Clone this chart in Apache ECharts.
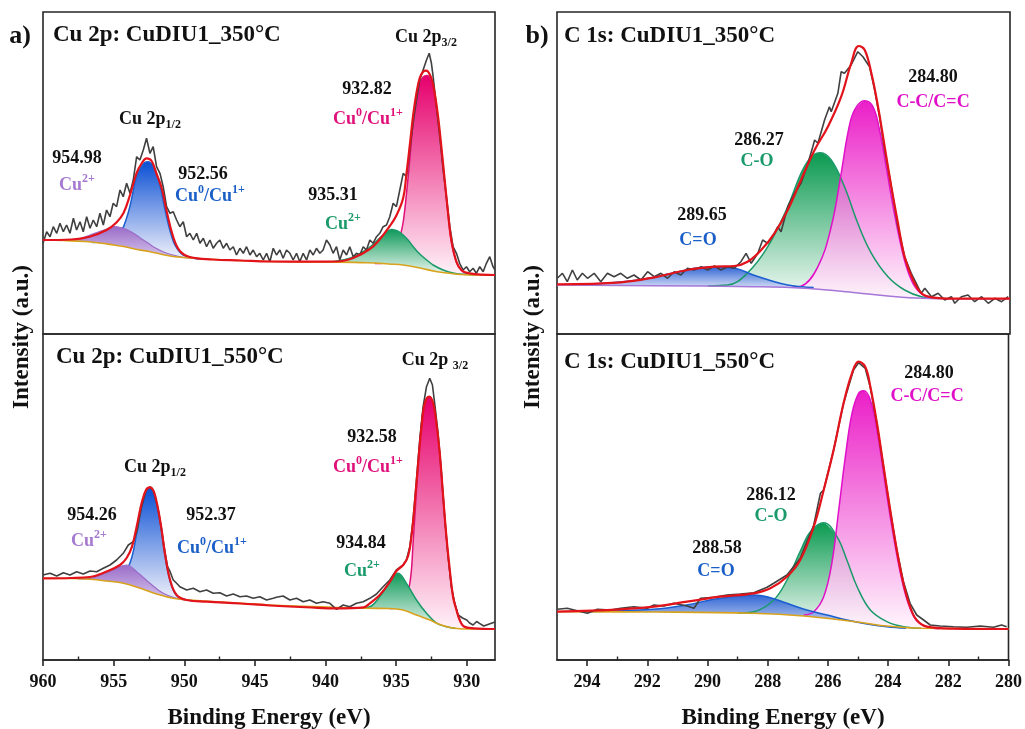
<!DOCTYPE html>
<html><head><meta charset="utf-8">
<script src="https://cdn.jsdelivr.net/npm/echarts@6/dist/echarts.min.js"></script>
<style>html,body{margin:0;padding:0;background:#fff}#c{width:1025px;height:729px}</style>
</head><body><div id="c"></div>
<script>
// ---------------- tick labels ----------------
const CU_MAJOR = [960, 955, 950, 945, 940, 935, 930];
const CU_MINOR = [957.5, 952.5, 947.5, 942.5, 937.5, 932.5];
const C_MAJOR = [294, 292, 290, 288, 286, 284, 282, 280];
const C_MINOR = [293, 291, 289, 287, 285, 283, 281];

// ---------------- a) Cu 2p 350°C  [binding energy, intensity a.u.] ----------------
const cu350_raw = [[960,90.7],[959.74,102.3],[959.5,97.3],[959.27,107.3],[959.03,100.7],[958.8,110.7],[958.56,102.3],[958.33,109],[958.09,100.7],[957.85,115.7],[957.62,104],[957.38,112.3],[957.15,102.3],[956.91,117.3],[956.67,105.7],[956.44,114],[956.2,107.3],[955.97,120.7],[955.73,109],[955.5,124],[955.26,117.3],[955.03,130.7],[954.79,127.3],[954.55,144],[954.32,137.3],[954.08,150.7],[953.84,140.7],[953.61,154],[953.37,177.3],[953.14,174],[952.9,184],[952.67,195.7],[952.43,180.7],[952.2,187.3],[951.96,167.3],[951.72,160.7],[951.49,147.3],[951.25,127.3],[951.01,120.7],[950.78,122.3],[950.54,114],[950.31,107.3],[950.07,112.3],[949.83,97.3],[949.6,100.7],[949.36,94],[949.12,100.7],[948.89,90.7],[948.65,95.7],[948.42,87.3],[948.18,94],[947.95,85.7],[947.71,90.7],[947.48,94],[947.24,85.7],[947,90.7],[946.77,84],[946.53,87.3],[946.3,79],[946.06,85.7],[945.82,80.7],[945.59,87.3],[945.35,79],[945.12,84],[944.88,77.3],[944.65,80.7],[944.41,74],[944.17,80.7],[943.94,72.3],[943.7,85.7],[943.47,79],[943.23,84],[943,75.7],[942.76,84],[942.52,80.7],[942.29,74],[942.05,80.7],[941.82,72.3],[941.58,80.7],[941.34,74],[941.11,84],[940.87,79],[940.64,85.7],[940.4,80.7],[940.17,84],[939.93,94],[939.69,89],[939.46,80.7],[939.22,87.3],[938.99,74],[938.75,84],[938.51,79],[938.28,87.3],[938.04,77.3],[937.81,80.7],[937.57,79],[937.33,87.3],[937.1,84],[936.86,94],[936.63,90.7],[936.39,97.3],[936.16,100.7],[935.92,107.3],[935.68,109],[935.45,117.3],[935.21,130.7],[934.98,127.3],[934.74,144],[934.5,160.7],[934.27,157.3],[934.03,184],[933.8,210.7],[933.56,234],[933.33,254],[933.09,264],[932.85,274],[932.66,280.7],[932.5,270.7],[932.38,257.3],[932.15,227.3],[931.91,197.3],[931.67,164],[931.44,137.3],[931.2,107.3],[930.97,87.3],[930.73,80.7],[930.5,70.7],[930.26,64],[930.02,67.3],[929.79,62.3],[929.55,65.7],[929.32,60.7],[929.08,67.3],[928.84,62.3],[928.61,70.7],[928.37,77.3],[928.14,67.3],[928,64]];
const cu350_bg = [[960,94],[958.5,93.5],[957,92.5],[956,91],[955,89],[954.3,87.5],[953.5,85],[952.5,82.5],[952,81],[951,78],[950,76.5],[949,75.5],[947,74],[944,72.5],[940,72],[937,71.3],[935.5,70],[934.5,69],[933.3,66],[932.2,62.5],[931,60.3],[930,59.3],[928,59]];
const cu350_env = [[960,94],[958,94.5],[956.7,97.3],[955.5,104],[954.8,111.5],[954.3,121],[953.84,139],[953.37,161],[953,171],[952.67,175.7],[952.31,173],[951.96,160],[951.6,146],[951.25,123],[950.78,97],[950.31,83],[949.6,77],[948,74.5],[946,73.5],[944,72.5],[941,72.3],[939.2,72.5],[938.04,76],[936.86,85],[936.2,94],[935.45,108],[935,118],[934.5,136],[934.27,160],[934.03,189],[933.8,218],[933.56,241],[933.33,256],[933.09,262.3],[932.9,263.3],[932.74,262.3],[932.5,255.7],[932.27,240.7],[932.03,217.3],[931.8,187.3],[931.56,154],[931.32,120.7],[931.09,94],[930.73,72.3],[930.38,64],[929.8,60.7],[928,59]];
const cu350_p12_cu2 = [[958.5,93.6],[957.5,95],[956.67,99],[956,102.5],[955.5,105],[954.98,107.3],[954.5,106.5],[954,104],[953.6,100.7],[953.2,97],[952.9,94],[952.5,90.5],[952.2,87.3],[951.5,82.3],[950.8,79],[950.07,76.7],[949.5,75.8]];
const cu350_p12_cu01 = [[956.5,91.5],[955.5,93],[955,96],[954.43,104],[954.08,116],[953.84,128],[953.6,144],[953.37,158],[953,168],[952.8,171.5],[952.56,172.3],[952.3,170],[952.08,165],[951.84,155],[951.6,141],[951.37,125],[951.13,110],[950.9,98],[950.66,89],[950.35,82.5],[950.07,79],[949.36,75.7],[948.5,74.8]];
const cu350_p32_cu2 = [[939.5,72.2],[938.04,77],[936.86,87],[936.2,95.5],[935.7,101.5],[935.31,104.5],[934.9,103],[934.5,99],[934.1,93],[933.8,87.5],[933.4,81],[933.09,77],[932.7,72.5],[932.38,69],[931.67,64],[930.97,61],[930.26,59.7],[929.5,59.2]];
const cu350_p32_cu01 = [[936.5,70.5],[935.5,72],[935,80],[934.74,96],[934.5,112],[934.27,140],[934.03,175],[933.8,211],[933.56,236],[933.33,251],[933.09,257],[932.82,258.5],[932.55,255],[932.27,239],[932.03,215],[931.8,185],[931.56,152],[931.32,119],[931.09,92],[930.73,71.5],[930.38,63.5],[930,60.5],[929.3,59.3]];

// ---------------- a) Cu 2p 550°C ----------------
const cu550_raw = [[960,85],[959.5,86.7],[959.03,84],[958.56,87.3],[958.09,85],[957.62,88.3],[957.15,86],[956.67,89],[956.2,88.3],[955.73,91.7],[955.26,95],[954.79,100],[954.32,106.7],[953.96,115],[953.61,118.3],[953.33,130],[953.02,153.3],[952.71,169.3],[952.43,173.3],[952.15,168.3],[951.84,150],[951.6,130],[951.37,108.3],[951.18,93.3],[951,88.3],[950.78,80],[950.54,76.7],[950.31,73.3],[949.83,70],[949.36,71.7],[948.89,68.3],[948.42,70],[947.95,66.7],[947.48,67.3],[947,64],[946.53,66],[946.06,63.3],[945.59,64],[945.12,61.7],[944.65,63.3],[944.17,60],[943.7,61.7],[943.47,62.7],[943,64],[942.52,60],[942.05,61.7],[941.58,58.3],[941.11,60],[940.64,56.7],[940.17,58.3],[939.69,56.7],[939.22,50.7],[938.75,55],[938.28,53.3],[937.81,56.7],[937.33,58.3],[936.86,61.7],[936.39,66],[935.92,73.3],[935.45,80],[934.98,90],[934.5,95],[934.27,100],[934.03,113.3],[933.8,140],[933.56,180],[933.33,220],[933.09,253.3],[932.85,273.3],[932.62,281.7],[932.43,275],[932.27,256.7],[932.03,226.7],[931.79,186.7],[931.56,143.3],[931.32,103.3],[931.09,73.3],[930.85,56.7],[930.61,45],[930.3,42],[930,40],[929.8,37],[929.55,35],[929.3,38.5],[929.1,36.7],[928.8,34],[928.4,36],[928,38]];
const cu550_bg = [[960,81.7],[958,81.5],[956.67,80.7],[955.5,79],[954.3,76.7],[953.1,71.7],[951.96,66],[950.8,61.7],[949.6,60],[947,57.5],[944,55],[941,53.5],[939.5,52.7],[937.1,51.7],[935.5,51.5],[934.5,50],[933.56,45],[932.6,40],[932,36],[931.2,32.5],[930.5,31.3],[930,31],[928,31]];
const cu550_env = [[960,81.7],[958,82],[956.67,83],[955.5,88.5],[954.55,95],[954.08,102],[953.7,113.3],[953.37,133.3],[953.02,156.7],[952.71,170],[952.43,172.7],[952.15,168.3],[951.84,150],[951.6,130],[951.37,106.7],[951,80],[950.54,65],[949.83,60],[948.42,58.3],[946,56.5],[943.94,54.5],[941,52.5],[939.2,51.7],[937.3,52.7],[936.86,56.7],[936.16,65],[935.45,78],[934.98,89],[934.5,95],[934.15,104],[933.91,124],[933.68,157],[933.44,197],[933.2,233.3],[932.97,256.7],[932.66,263.3],[932.38,256.7],[932.15,236.7],[931.91,206.7],[931.67,163.3],[931.44,123.3],[931.2,90],[930.97,63.3],[930.73,50],[930.5,40],[930.2,33.5],[929.5,31.7],[928,31]];
const cu550_p12_cu2 = [[957.5,81.2],[956.67,81.7],[955.5,87.3],[954.55,93.5],[954.08,95],[953.37,88.3],[952.43,76.7],[951.49,66.7],[950.54,61.7],[949.83,60]];
const cu550_p12_cu01 = [[956.5,81],[955.5,82.5],[954.55,85],[954.08,90],[953.7,103.3],[953.37,126.7],[953.02,153.3],[952.67,168.3],[952.43,171.7],[952.15,166.7],[951.84,148.3],[951.6,128.3],[951.37,105],[951,79],[950.54,64.5],[949.83,60],[949,59]];
const cu550_p32_cu2 = [[937.5,52],[936.86,53.3],[936.16,63.3],[935.45,78.3],[934.86,86.7],[934.27,76.7],[933.56,60],[932.85,46.7],[932.15,37],[931.5,33.5],[930.8,31.5]];
const cu550_p32_cu01 = [[935.5,51.5],[935.1,52],[934.5,56.7],[934.03,76.7],[933.8,116.7],[933.56,170],[933.32,216.7],[933.09,250],[932.85,261],[932.66,262.7],[932.38,256],[932.15,236],[931.91,205],[931.67,161.7],[931.44,121.7],[931.2,88.3],[930.97,63.3],[930.73,50.7],[930.5,40],[930.2,33.5],[929.5,31.5]];

// ---------------- b) C 1s 350°C ----------------
const c350_raw = [[294.99,55.7],[294.82,60.7],[294.66,52.3],[294.49,64],[294.33,54],[294.16,60.7],[293.99,55.7],[293.77,60.7],[293.55,52.3],[293.33,60.7],[293.11,57.3],[292.89,60.7],[292.67,55.7],[292.45,59],[292.22,54],[292,62.3],[291.78,57.3],[291.56,60.7],[291.34,55.7],[291.12,62.3],[290.9,59],[290.68,65.7],[290.46,64],[290.23,67.3],[290.01,64],[289.79,68],[289.57,64],[289.35,67.3],[289.13,65.7],[288.91,72.3],[288.74,80.7],[288.57,70.7],[288.35,80.7],[288.19,94],[288.02,90.7],[287.8,100.7],[287.69,107.3],[287.58,102.3],[287.36,127.3],[287.14,140.7],[286.92,150.7],[286.69,170.7],[286.53,187.3],[286.47,194],[286.36,190.7],[286.14,214],[285.98,227.3],[285.92,222.3],[285.7,240.7],[285.59,262.3],[285.48,260.7],[285.26,269],[285.04,282.3],[284.87,277.3],[284.65,267.3],[284.48,244],[284.32,217.3],[284.15,184],[283.93,147.3],[283.71,107.3],[283.49,77.3],[283.27,60.7],[283.05,47.3],[282.94,40.7],[282.82,45.7],[282.6,37.3],[282.38,40.7],[282.16,34],[281.94,37.3],[281.83,30.7],[281.61,37.3],[281.39,39],[281.17,32.3],[280.94,37.3],[280.72,30.7],[280.5,35.7],[280.28,32.3],[280.06,37.3]];
const c350_bg = [[295,49],[291.8,48.3],[288.5,47.3],[286.8,45.7],[285.1,41.3],[284.04,38],[282.9,35.7],[281.8,35.3],[280,35.3]];
const c350_env = [[295,49.7],[292.89,51.7],[291.78,56.7],[290.68,64],[289.79,67.3],[289.13,68],[288.69,72.3],[288.24,84],[287.8,100.7],[287.36,124],[286.92,154],[286.47,184],[286.03,207.3],[285.59,237.3],[285.26,270.7],[285.01,288],[284.81,284],[284.59,260.7],[284.37,227.3],[284.15,187.3],[283.93,147.3],[283.71,110.7],[283.49,77.3],[283.21,54],[282.93,40.7],[282.6,36.7],[281.83,35.3],[280,35.3]];
const c350_co2 = [[294,49.7],[292.3,54],[291.2,60.7],[290.45,65.7],[289.8,67.3],[289.1,65.7],[288.5,59],[287.91,53.3],[287.36,49],[286.9,47.3],[286.5,46.5]];
const c350_co = [[290,48.3],[289.35,49],[288.7,60.7],[288.02,87.3],[287.36,127.3],[286.92,160.7],[286.58,177.3],[286.27,181.3],[285.92,174],[285.48,147.3],[285.04,110.7],[284.59,80.7],[284.04,57.3],[283.49,44],[282.93,37.3],[282.4,35.7]];
const c350_cc = [[287.2,47],[286.9,48],[286.36,67.3],[285.92,107.3],[285.59,160.7],[285.37,200.7],[285.15,224],[284.81,233.3],[284.54,227.3],[284.32,204],[284.1,167.3],[283.87,127.3],[283.65,94],[283.43,67.3],[283.15,47.3],[282.82,38],[282.4,35.5]];

// ---------------- b) C 1s 550°C ----------------
const c550_raw = [[294.99,50.7],[294.66,51.7],[294.33,49.3],[293.99,46.7],[293.66,50.7],[293.22,50],[292.89,51.7],[292.45,53.3],[292,51.7],[291.78,55],[291.45,54],[291.12,56.7],[290.68,54],[290.45,51.7],[290.23,61.7],[289.79,62.7],[289.35,65],[288.91,66],[288.46,67.3],[288.02,72.7],[287.8,76.7],[287.36,85],[286.92,101.7],[286.47,135],[286.25,166.7],[286.14,170],[285.81,210],[285.48,256.7],[285.15,290],[284.98,297.3],[284.76,291.7],[284.59,272.7],[284.37,236],[284.15,192.7],[283.93,149.3],[283.71,110],[283.49,78.3],[283.27,56.7],[283.05,45],[282.82,40],[282.6,35],[282.27,34],[281.83,33.3],[281.39,32.7],[280.94,34],[280.5,32.7],[280.23,35],[280.06,33.3]];
const c550_bg = [[295,48.3],[291.8,48],[288.5,46.7],[286.8,44],[285.1,38.3],[284.04,34],[282.9,31.7],[280,31.3]];
const c550_env = [[295,48.3],[292.89,50.7],[291.78,53.3],[290.68,58.3],[289.57,63.3],[288.46,66.7],[287.91,71.7],[287.36,83.3],[286.92,100],[286.47,133.3],[286.14,170],[285.81,210],[285.48,256.7],[285.2,286.7],[284.98,298.3],[284.76,293.3],[284.59,273.3],[284.37,236.7],[284.15,193.3],[283.93,150],[283.71,110],[283.49,76.7],[283.27,53.3],[283.05,40],[282.71,33.3],[281.83,31.3],[280,31]];
const c550_co2 = [[294,48.3],[291.8,50.7],[290.7,55],[289.8,60.7],[288.9,64.3],[288.46,65],[288.02,63.3],[287.36,56.7],[286.7,50],[286.03,45],[285.37,40],[284.7,36],[284.04,33.3],[283.4,31.7]];
const c550_co = [[289,47],[288.46,48.3],[287.8,60],[287.36,80],[286.9,110],[286.58,128.3],[286.14,137.3],[285.7,123.3],[285.37,100],[285.03,73.3],[284.59,50],[284.04,38.3],[283.49,33.3],[282.9,31.7]];
const c550_cc = [[286.8,45],[286.47,48.3],[286.14,63.3],[285.87,96.7],[285.64,150],[285.42,203.3],[285.2,246.7],[284.98,266.7],[284.81,269.3],[284.59,260],[284.37,230],[284.15,186.7],[283.93,143.3],[283.71,105],[283.49,73.3],[283.27,51.7],[283.05,39.3],[282.71,33.3],[282.3,31.5]];

// ---------------- build ----------------
const SERIF = '"Liberation Serif","Times New Roman",serif';
const RED = '#e3131b', GRAY = '#404040', ORANGE = '#d9a21c';

function lineS(g, data, color, width, z, smooth) {
  return {type: 'line', xAxisIndex: g, yAxisIndex: g, data: data, symbol: 'none', showSymbol: false,
    smooth: smooth, lineStyle: {color: color, width: width}, z: z, silent: true, clip: true};
}
function fillS(g, comp, bg, top, bot, z, opacity) {
  const lo = Math.min(comp[0][0], comp[comp.length - 1][0]);
  const hi = Math.max(comp[0][0], comp[comp.length - 1][0]);
  const base = bg.filter(p => p[0] > lo && p[0] < hi).slice().reverse();
  const poly = comp.concat(base);
  return {type: 'custom', xAxisIndex: g, yAxisIndex: g, data: [comp[0]], z: z, silent: true,
    renderItem: function (params, api) {
      return {type: 'polygon', shape: {points: poly.map(p => api.coord(p)), smooth: 0.25},
        style: {fill: {type: 'linear', x: 0, y: 0, x2: 0, y2: 1,
          colorStops: [{offset: 0, color: top}, {offset: 1, color: bot}]}, opacity: opacity}};
    }};
}

const series = [
  // a) 350
  fillS(0, cu350_p32_cu01, cu350_bg, '#e6006c', '#fff2f8', 1, 1),
  lineS(0, cu350_p32_cu01, '#e0107a', 1.5, 2, 0.4),
  fillS(0, cu350_p32_cu2, cu350_bg, '#0f9a5a', '#eef8f2', 3, 1),
  lineS(0, cu350_p32_cu2, '#1a9a6a', 1.5, 4, 0.4),
  fillS(0, cu350_p12_cu01, cu350_bg, '#0b4fd4', '#f2f2fb', 1, 1),
  lineS(0, cu350_p12_cu01, '#1a5fd0', 1.5, 2, 0.4),
  fillS(0, cu350_p12_cu2, cu350_bg, '#9a6cc8', '#d6c6ec', 3, 1),
  lineS(0, cu350_p12_cu2, '#9a6cc8', 1.2, 4, 0.4),
  lineS(0, cu350_bg, ORANGE, 1.6, 5, 0.4),
  lineS(0, cu350_raw, GRAY, 1.6, 6, false),
  lineS(0, cu350_env, RED, 2.2, 7, 0.4),
  // a) 550
  fillS(1, cu550_p32_cu01, cu550_bg, '#e6006c', '#fff2f8', 1, 1),
  lineS(1, cu550_p32_cu01, '#e0107a', 1.5, 2, 0.4),
  fillS(1, cu550_p32_cu2, cu550_bg, '#0f9a5a', '#eef8f2', 3, 1),
  lineS(1, cu550_p32_cu2, '#1a9a6a', 1.5, 4, 0.4),
  fillS(1, cu550_p12_cu01, cu550_bg, '#0b4fd4', '#f2f2fb', 1, 1),
  lineS(1, cu550_p12_cu01, '#1a5fd0', 1.5, 2, 0.4),
  fillS(1, cu550_p12_cu2, cu550_bg, '#9a6cc8', '#d6c6ec', 3, 1),
  lineS(1, cu550_p12_cu2, '#9a6cc8', 1.2, 4, 0.4),
  lineS(1, cu550_bg, ORANGE, 1.6, 5, 0.4),
  lineS(1, cu550_raw, GRAY, 1.6, 6, false),
  lineS(1, cu550_env, RED, 2.2, 7, 0.4),
  // b) 350
  fillS(2, c350_co, c350_bg, '#0a9a50', '#f4faf6', 1, 1),
  fillS(2, c350_cc, c350_bg, '#e800c0', '#fff4fc', 1, 0.88),
  fillS(2, c350_co2, c350_bg, '#1a55d0', '#d4dcf6', 1, 0.9),
  lineS(2, c350_co, '#1a9a6a', 1.5, 4, 0.4),
  lineS(2, c350_cc, '#e010c8', 1.5, 4, 0.4),
  lineS(2, c350_co2, '#1a5fd0', 1.5, 4, 0.4),
  lineS(2, c350_bg, '#a676d8', 1.6, 5, 0.4),
  lineS(2, c350_raw, GRAY, 1.6, 6, false),
  lineS(2, c350_env, RED, 2.2, 7, 0.4),
  // b) 550
  fillS(3, c550_co, c550_bg, '#0a9a50', '#f4faf6', 1, 1),
  fillS(3, c550_cc, c550_bg, '#e800c0', '#fff4fc', 1, 0.88),
  fillS(3, c550_co2, c550_bg, '#1a55d0', '#d4dcf6', 1, 0.9),
  lineS(3, c550_co, '#1a9a6a', 1.5, 4, 0.4),
  lineS(3, c550_cc, '#e010c8', 1.5, 4, 0.4),
  lineS(3, c550_co2, '#1a5fd0', 1.5, 4, 0.4),
  lineS(3, c550_bg, ORANGE, 1.6, 5, 0.4),
  lineS(3, c550_raw, GRAY, 1.6, 6, false),
  lineS(3, c550_env, RED, 2.2, 7, 0.4)
];

const gridBase = {show: true, borderColor: '#262626', borderWidth: 1.6, containLabel: false};
const grids = [
  Object.assign({left: 43, top: 12, width: 452, height: 322}, gridBase),
  Object.assign({left: 43, top: 334, width: 452, height: 326}, gridBase),
  Object.assign({left: 557, top: 12, width: 453, height: 322}, gridBase),
  Object.assign({left: 557, top: 334, width: 453, height: 326}, gridBase)
];
const tickLabel = {fontFamily: SERIF, fontWeight: 'bold', fontSize: 18, color: '#111', margin: 13};
function hiddenX(g, mn, mx) {
  return {gridIndex: g, type: 'value', min: mn, max: mx, inverse: true, axisLine: {show: false},
    axisTick: {show: false}, axisLabel: {show: false}, splitLine: {show: false}};
}
function labelX(g, mn, mx, major) {
  return {gridIndex: g, type: 'value', min: mn, max: mx, inverse: true,
    axisLine: {show: true, onZero: false, lineStyle: {color: '#262626', width: 1.6}},
    axisTick: {show: true, customValues: major, length: 6, lineStyle: {color: '#262626', width: 1.6}},
    axisLabel: Object.assign({show: true, customValues: major}, tickLabel), splitLine: {show: false}};
}
function minorX(g, mn, mx, minor) {
  return {gridIndex: g, type: 'value', min: mn, max: mx, inverse: true,
    axisLine: {show: false}, axisTick: {show: true, customValues: minor, length: 3.5, lineStyle: {color: '#262626', width: 1.4}},
    axisLabel: {show: false}, splitLine: {show: false}};
}
const xAxes = [hiddenX(0, 928, 960), labelX(1, 928, 960, CU_MAJOR), hiddenX(2, 280, 295), labelX(3, 280, 295, C_MAJOR),
  minorX(1, 928, 960, CU_MINOR), minorX(3, 280, 295, C_MINOR)];
const yAxes = [322, 326, 322, 326].map((h, i) => ({gridIndex: i, type: 'value', min: 0, max: h, show: false, splitLine: {show: false}}));

// ---------------- texts ----------------
function rich(color, size) {
  return {
    sp: {fontFamily: SERIF, fontWeight: 'bold', fontSize: Math.round(size * 0.64), fill: color, lineHeight: 12, verticalAlign: 'top'},
    sb: {fontFamily: SERIF, fontWeight: 'bold', fontSize: Math.round(size * 0.64), fill: color, lineHeight: 12, verticalAlign: 'bottom'}
  };
}
function txt(text, x, y, color, size, align, rot) {
  return {type: 'text', x: x, y: y, z: 100, rotation: rot || 0,
    style: {text: text, fill: color, fontFamily: SERIF, fontWeight: 'bold', fontSize: size,
      lineHeight: 24, align: align || 'center', verticalAlign: 'middle', rich: rich(color, size)}};
}
const BLK = '#111', PINK = '#e0107a', BLUE = '#1a5fc8', PURP = '#a57ad0', GRN = '#1a9a6a', MAG = '#e010c8';
const graphics = [
  txt('a)', 20, 36, BLK, 26), txt('b)', 537, 36, BLK, 26),
  txt('Cu 2p: CuDIU1_350°C', 53, 35, BLK, 23, 'left'),
  txt('Cu 2p: CuDIU1_550°C', 56, 357, BLK, 23, 'left'),
  txt('C 1s: CuDIU1_350°C', 564, 36, BLK, 23, 'left'),
  txt('C 1s: CuDIU1_550°C', 564, 362, BLK, 23, 'left'),
  txt('Binding Energy (eV)', 269, 718, BLK, 23), txt('Binding Energy (eV)', 783, 718, BLK, 23),
  txt('Intensity (a.u.)', 22, 337, BLK, 23, 'center', Math.PI / 2),
  txt('Intensity (a.u.)', 533, 337, BLK, 23, 'center', Math.PI / 2),
  // a) 350
  txt('Cu 2p{sb|3/2}', 426, 37, BLK, 18), txt('932.82', 367, 89, BLK, 18),
  txt('Cu{sp|0}/Cu{sp|1+}', 368, 119, PINK, 18), txt('Cu 2p{sb|1/2}', 150, 119, BLK, 18),
  txt('954.98', 77, 158, BLK, 18), txt('Cu{sp|2+}', 77, 185, PURP, 18),
  txt('952.56', 203, 174, BLK, 18), txt('Cu{sp|0}/Cu{sp|1+}', 210, 196, BLUE, 18),
  txt('935.31', 333, 195, BLK, 18), txt('Cu{sp|2+}', 343, 224, GRN, 18),
  // a) 550
  txt('Cu 2p {sb|3/2}', 435, 360, BLK, 18), txt('932.58', 372, 437, BLK, 18),
  txt('Cu{sp|0}/Cu{sp|1+}', 368, 467, PINK, 18), txt('Cu 2p{sb|1/2}', 155, 467, BLK, 18),
  txt('954.26', 92, 515, BLK, 18), txt('Cu{sp|2+}', 89, 541, PURP, 18),
  txt('952.37', 211, 515, BLK, 18), txt('Cu{sp|0}/Cu{sp|1+}', 212, 548, BLUE, 18),
  txt('934.84', 361, 543, BLK, 18), txt('Cu{sp|2+}', 362, 571, GRN, 18),
  // b) 350
  txt('284.80', 933, 77, BLK, 18), txt('C-C/C=C', 933, 102, MAG, 18),
  txt('286.27', 759, 140, BLK, 18), txt('C-O', 757, 161, GRN, 18),
  txt('289.65', 702, 215, BLK, 18), txt('C=O', 698, 240, BLUE, 18),
  // b) 550
  txt('284.80', 929, 373, BLK, 18), txt('C-C/C=C', 927, 396, MAG, 18),
  txt('286.12', 771, 495, BLK, 18), txt('C-O', 771, 516, GRN, 18),
  txt('288.58', 717, 548, BLK, 18), txt('C=O', 716, 571, BLUE, 18)
];

const chart = echarts.init(document.getElementById('c'), null, {renderer: 'canvas'});
chart.setOption({
  backgroundColor: '#ffffff', animation: false,
  grid: grids, xAxis: xAxes, yAxis: yAxes, series: series, graphic: graphics
});
</script></body></html>
